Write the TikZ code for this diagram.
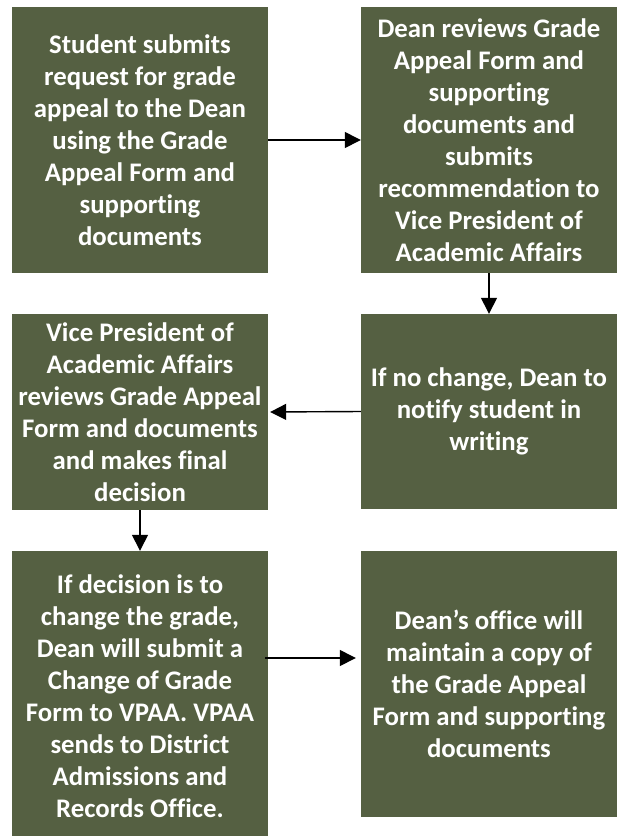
\documentclass[tikz,border=0pt]{standalone}
\usepackage{fontspec}
\setmainfont{Carlito}[Ligatures=NoCommon]
\usetikzlibrary{arrows.meta}
\definecolor{olive}{RGB}{85,96,66}
\tikzset{
  box/.style={fill=olive, draw=none, text=white, align=center, inner sep=0pt,
    minimum width=256pt, font=\fontsize{26.8}{32}\selectfont\bfseries},
  arr/.style={line width=1.4pt, draw=black, -{Triangle[length=16pt,width=16pt]}}
}
\begin{document}
\begin{tikzpicture}[x=1pt,y=-1pt]
\useasboundingbox (0,0) rectangle (617,836);
\begin{scope}
\clip (0,0) rectangle (617,836);
\node[box, minimum height=266pt] (b1) at (140,140) {Student submits\\request for grade\\appeal to the Dean\\using the Grade\\Appeal Form and\\supporting\\documents};
\node[box, minimum height=266pt] (b2) at (489,140) {Dean reviews Grade\\Appeal Form and\\supporting\\documents and\\submits\\recommendation to\\Vice President of\\Academic Affairs};
\node[box, minimum height=195pt] (b3) at (489,411.5) {If no change, Dean to\\notify student in\\writing};
\node[box, minimum height=196pt] (b4) at (140,412) {Vice President of\\Academic Affairs\\reviews Grade Appeal\\Form and documents\\and makes final\\decision};
\node[box, minimum height=290pt] (b5) at (140,696) {If decision is to\\change the grade,\\Dean will submit a\\Change of Grade\\Form to VPAA. VPAA\\sends to District\\Admissions and\\Records Office.};
\node[box, minimum height=266pt] (b6) at (489,684) {Dean’s office will\\maintain a copy of\\the Grade Appeal\\Form and supporting\\documents};
\end{scope}
\draw[arr] (b1.east) -- (b2.west);
\draw[arr] (b2.south) -- (b3.north);
\draw[arr, shorten >=2pt] (b3.west) -- (b4.east);
\draw[arr] (b4.south) -- (b5.north);
\draw[arr] ([shift={(-3,-38)}]b5.east) -- ([shift={(-5,-26)}]b6.west);
\end{tikzpicture}
\end{document}
